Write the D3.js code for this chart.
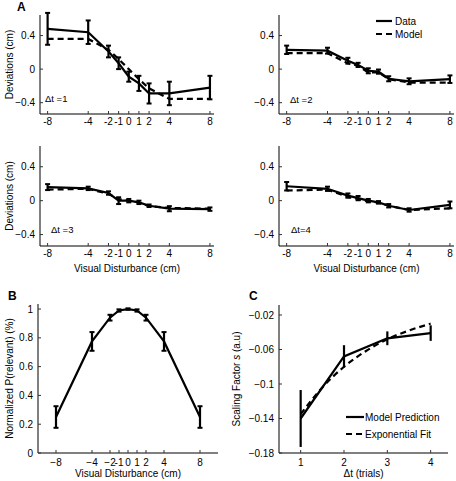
<!DOCTYPE html>
<html><head><meta charset="utf-8">
<script src="https://cdn.jsdelivr.net/npm/d3@7"></script>
<style>
html,body{margin:0;padding:0;background:#fff;}
svg{display:block;font-family:"Liberation Sans",Arial,sans-serif;}
</style></head>
<body><svg id="c" width="456" height="481"></svg>
<script>
// ---------- data ----------
const disturbances = [-8,-4,-2,-1,0,1,2,4,8];
const xTickLabelsA = ["-8","-4","-2","-1","0","1","2","4","8"];
const xTickLabelsB = ["\u22128","\u22124","\u22122","-1","0","1","2","4","8"];
const yTicksA = [-0.4,0,0.4];
const yTickLabelsA = ["\u22120.4","0","0.4"];

const data1  = [0.48,0.44,0.21,0.07,-0.09,-0.17,-0.29,-0.29,-0.22];
const err1   = [0.19,0.14,0.07,0.07,0.06,0.09,0.12,0.14,0.14];
const model1 = [0.36,0.36,0.23,0.12,0.00,-0.12,-0.23,-0.355,-0.355];

const data2  = [0.23,0.22,0.10,0.05,-0.02,-0.03,-0.115,-0.145,-0.12];
const err2   = [0.05,0.035,0.035,0.025,0.03,0.025,0.03,0.035,0.045];
const model2 = [0.19,0.19,0.07,0.04,-0.04,-0.04,-0.12,-0.16,-0.16];

const data3  = [0.16,0.145,0.09,0.00,0.00,-0.02,-0.06,-0.095,-0.10];
const err3   = [0.035,0.02,0.02,0.04,0.02,0.02,0.015,0.03,0.02];
const model3 = [0.13,0.14,0.08,0.02,0.00,-0.02,-0.065,-0.085,-0.095];

const data4  = [0.17,0.14,0.06,0.03,0.00,-0.02,-0.06,-0.11,-0.05];
const err4   = [0.05,0.025,0.025,0.025,0.02,0.015,0.02,0.02,0.04];
const model4 = [0.12,0.13,0.045,0.02,-0.01,-0.02,-0.06,-0.11,-0.09];

const pRelevant = [0.25,0.775,0.94,0.99,1.0,0.99,0.94,0.775,0.25];
const pErr      = [0.075,0.065,0.02,0.008,0.005,0.008,0.02,0.065,0.075];
const yTicksB = [0,0.2,0.4,0.6,0.8,1];
const yTickLabelsB = ["0","0.2","0.4","0.6","0.8","1"];

const dtTrials = [1,2,3,4];
const scaling  = [-0.14,-0.068,-0.047,-0.041];
const scalingErr = [0.033,0.013,0.008,0.009];
const fitX = [1,1.5,2,2.5,3,3.5,4];
const fitY = [-0.135,-0.104,-0.080,-0.062,-0.048,-0.038,-0.030];
const yTicksC = [-0.18,-0.14,-0.1,-0.06,-0.02];
const yTickLabelsC = ["\u22120.18","\u22120.14","\u22120.1","\u22120.06","\u22120.02"];
const xTicksC = [1,2,3,4];

// ---------- drawing ----------
const svg = d3.select("#c");
const FS = 10;

function axes(g, x, y, xt, xl, yt, yl, tickLabelY, xTitle, xTitleY, yTitle, yTitleX){
  const [x0,x1] = x.range(), [y0,y1] = y.range();
  g.append("line").attr("x1",x0).attr("x2",x1).attr("y1",y0).attr("y2",y0).attr("stroke","#000").attr("stroke-width",1);
  g.append("line").attr("x1",x0).attr("x2",x0).attr("y1",y0).attr("y2",y1).attr("stroke","#000").attr("stroke-width",1);
  xt.forEach((v,i)=>{
    g.append("line").attr("x1",x(v)).attr("x2",x(v)).attr("y1",y0).attr("y2",y0-3).attr("stroke","#333");
    g.append("text").attr("x",x(v)).attr("y",tickLabelY).attr("text-anchor","middle").attr("font-size",FS).text(xl[i]);
  });
  yt.forEach((v,i)=>{
    g.append("line").attr("x1",x0).attr("x2",x0+3).attr("y1",y(v)).attr("y2",y(v)).attr("stroke","#333");
    g.append("text").attr("x",x0-5).attr("y",y(v)).attr("dy","0.35em").attr("text-anchor","end").attr("font-size",FS).text(yl[i]);
  });
  if(xTitle) g.append("text").attr("x",(x0+x1)/2).attr("y",xTitleY).attr("text-anchor","middle").attr("font-size",FS).text(xTitle);
  if(yTitle){
    const t = g.append("text").attr("transform",`translate(${yTitleX},${(y0+y1)/2}) rotate(-90)`).attr("text-anchor","middle").attr("font-size",FS);
    if(typeof yTitle === "string") t.text(yTitle);
    else yTitle.forEach(p=>{ const s=t.append("tspan").text(p.t); if(p.i) s.attr("font-style","italic"); });
  }
}

function errorBars(g, x, y, xs, ys, es, cap){
  xs.forEach((v,i)=>{
    const xc = x(v), ya = y(ys[i]+es[i]), yb = y(ys[i]-es[i]);
    g.append("line").attr("x1",xc).attr("x2",xc).attr("y1",ya).attr("y2",yb).attr("stroke","#000").attr("stroke-width",2.2);
    g.append("line").attr("x1",xc-cap).attr("x2",xc+cap).attr("y1",ya).attr("y2",ya).attr("stroke","#000").attr("stroke-width",2);
    g.append("line").attr("x1",xc-cap).attr("x2",xc+cap).attr("y1",yb).attr("y2",yb).attr("stroke","#000").attr("stroke-width",2);
  });
}

function line(g, x, y, xs, ys, dashed, curve){
  const gen = d3.line().x((d,i)=>x(xs[i])).y(d=>y(d));
  if(curve) gen.curve(curve);
  g.append("path").datum(ys).attr("d",gen).attr("fill","none").attr("stroke","#000")
    .attr("stroke-width",2.2).attr("stroke-dasharray",dashed?"6,4":null);
}

// Panel A subplots
const panelsA = [
  {data:data1, err:err1, model:model1, left:40, right:214, top:15, bottom:114, label:"\u0394t =1", lx:45, ly:102, ytitle:true, xtitle:false},
  {data:data2, err:err2, model:model2, left:279, right:454, top:15, bottom:114, label:"\u0394t =2", lx:290, ly:103, ytitle:false, xtitle:false},
  {data:data3, err:err3, model:model3, left:40, right:214, top:146, bottom:246, label:"\u0394t =3", lx:51, ly:233, ytitle:true, xtitle:true},
  {data:data4, err:err4, model:model4, left:279, right:454, top:146, bottom:246, label:"\u0394t=4", lx:291, ly:233, ytitle:false, xtitle:true}
];
panelsA.forEach(p=>{
  const g = svg.append("g");
  const x = d3.scaleLinear().domain([-8.75,8.4]).range([p.left, p.right]);
  const y = d3.scaleLinear().domain([-0.535,0.645]).range([p.bottom, p.top]);
  axes(g, x, y, disturbances, xTickLabelsA, yTicksA, yTickLabelsA, p.bottom+11,
       p.xtitle ? "Visual Disturbance (cm)" : null, p.bottom+26,
       p.ytitle ? "Deviations (cm)" : null, 13);
  line(g, x, y, disturbances, p.model, true);
  line(g, x, y, disturbances, p.data, false);
  errorBars(g, x, y, disturbances, p.data, p.err, 2.5);
  g.append("text").attr("x",p.lx).attr("y",p.ly).attr("font-size",9.5).text(p.label);
});

// Legend A
const legA = svg.append("g");
legA.append("line").attr("x1",376).attr("x2",392).attr("y1",21).attr("y2",21).attr("stroke","#000").attr("stroke-width",2.2);
legA.append("text").attr("x",395).attr("y",21).attr("dy","0.35em").attr("font-size",FS).text("Data");
legA.append("line").attr("x1",376).attr("x2",392).attr("y1",34).attr("y2",34).attr("stroke","#000").attr("stroke-width",2.2).attr("stroke-dasharray","6,4");
legA.append("text").attr("x",395).attr("y",34).attr("dy","0.35em").attr("font-size",FS).text("Model");

// Panel B
{
  const g = svg.append("g");
  const x = d3.scaleLinear().domain([-10,10]).range([38,218]);
  const y = d3.scaleLinear().domain([0,1.035]).range([453,304]);
  axes(g, x, y, disturbances, xTickLabelsB, yTicksB, yTickLabelsB, 466,
       "Visual Disturbance (cm)", 477, "Normalized P(relevant) (%)", 13);
  line(g, x, y, disturbances, pRelevant, false);
  errorBars(g, x, y, disturbances, pRelevant, pErr, 2.5);
}

// Panel C
{
  const g = svg.append("g");
  const x = d3.scaleLinear().domain([0.5,4.4]).range([279,448]);
  const y = d3.scaleLinear().domain([-0.18,-0.0084]).range([453,305]);
  axes(g, x, y, xTicksC, xTicksC.map(String), yTicksC, yTickLabelsC, 466,
       "\u0394t (trials)", 477, [{t:"Scaling Factor "},{t:"s",i:true},{t:" (a.u)"}], 240);
  line(g, x, y, fitX, fitY, true, d3.curveMonotoneX);
  line(g, x, y, dtTrials, scaling, false);
  errorBars(g, x, y, dtTrials, scaling, scalingErr, 0);
  const leg = g.append("g");
  leg.append("line").attr("x1",346).attr("x2",364).attr("y1",417).attr("y2",417).attr("stroke","#000").attr("stroke-width",2.2);
  leg.append("text").attr("x",365).attr("y",417).attr("dy","0.35em").attr("font-size",FS).text("Model Prediction");
  leg.append("line").attr("x1",346).attr("x2",364).attr("y1",434).attr("y2",434).attr("stroke","#000").attr("stroke-width",2.2).attr("stroke-dasharray","6,4");
  leg.append("text").attr("x",365).attr("y",434).attr("dy","0.35em").attr("font-size",FS).text("Exponential Fit");
}

// Panel letters
[["A",17,11],["B",8,300],["C",249,300]].forEach(([t,x,y])=>{
  svg.append("text").attr("x",x).attr("y",y).attr("font-size",12).attr("font-weight","bold").text(t);
});
</script></body></html>
